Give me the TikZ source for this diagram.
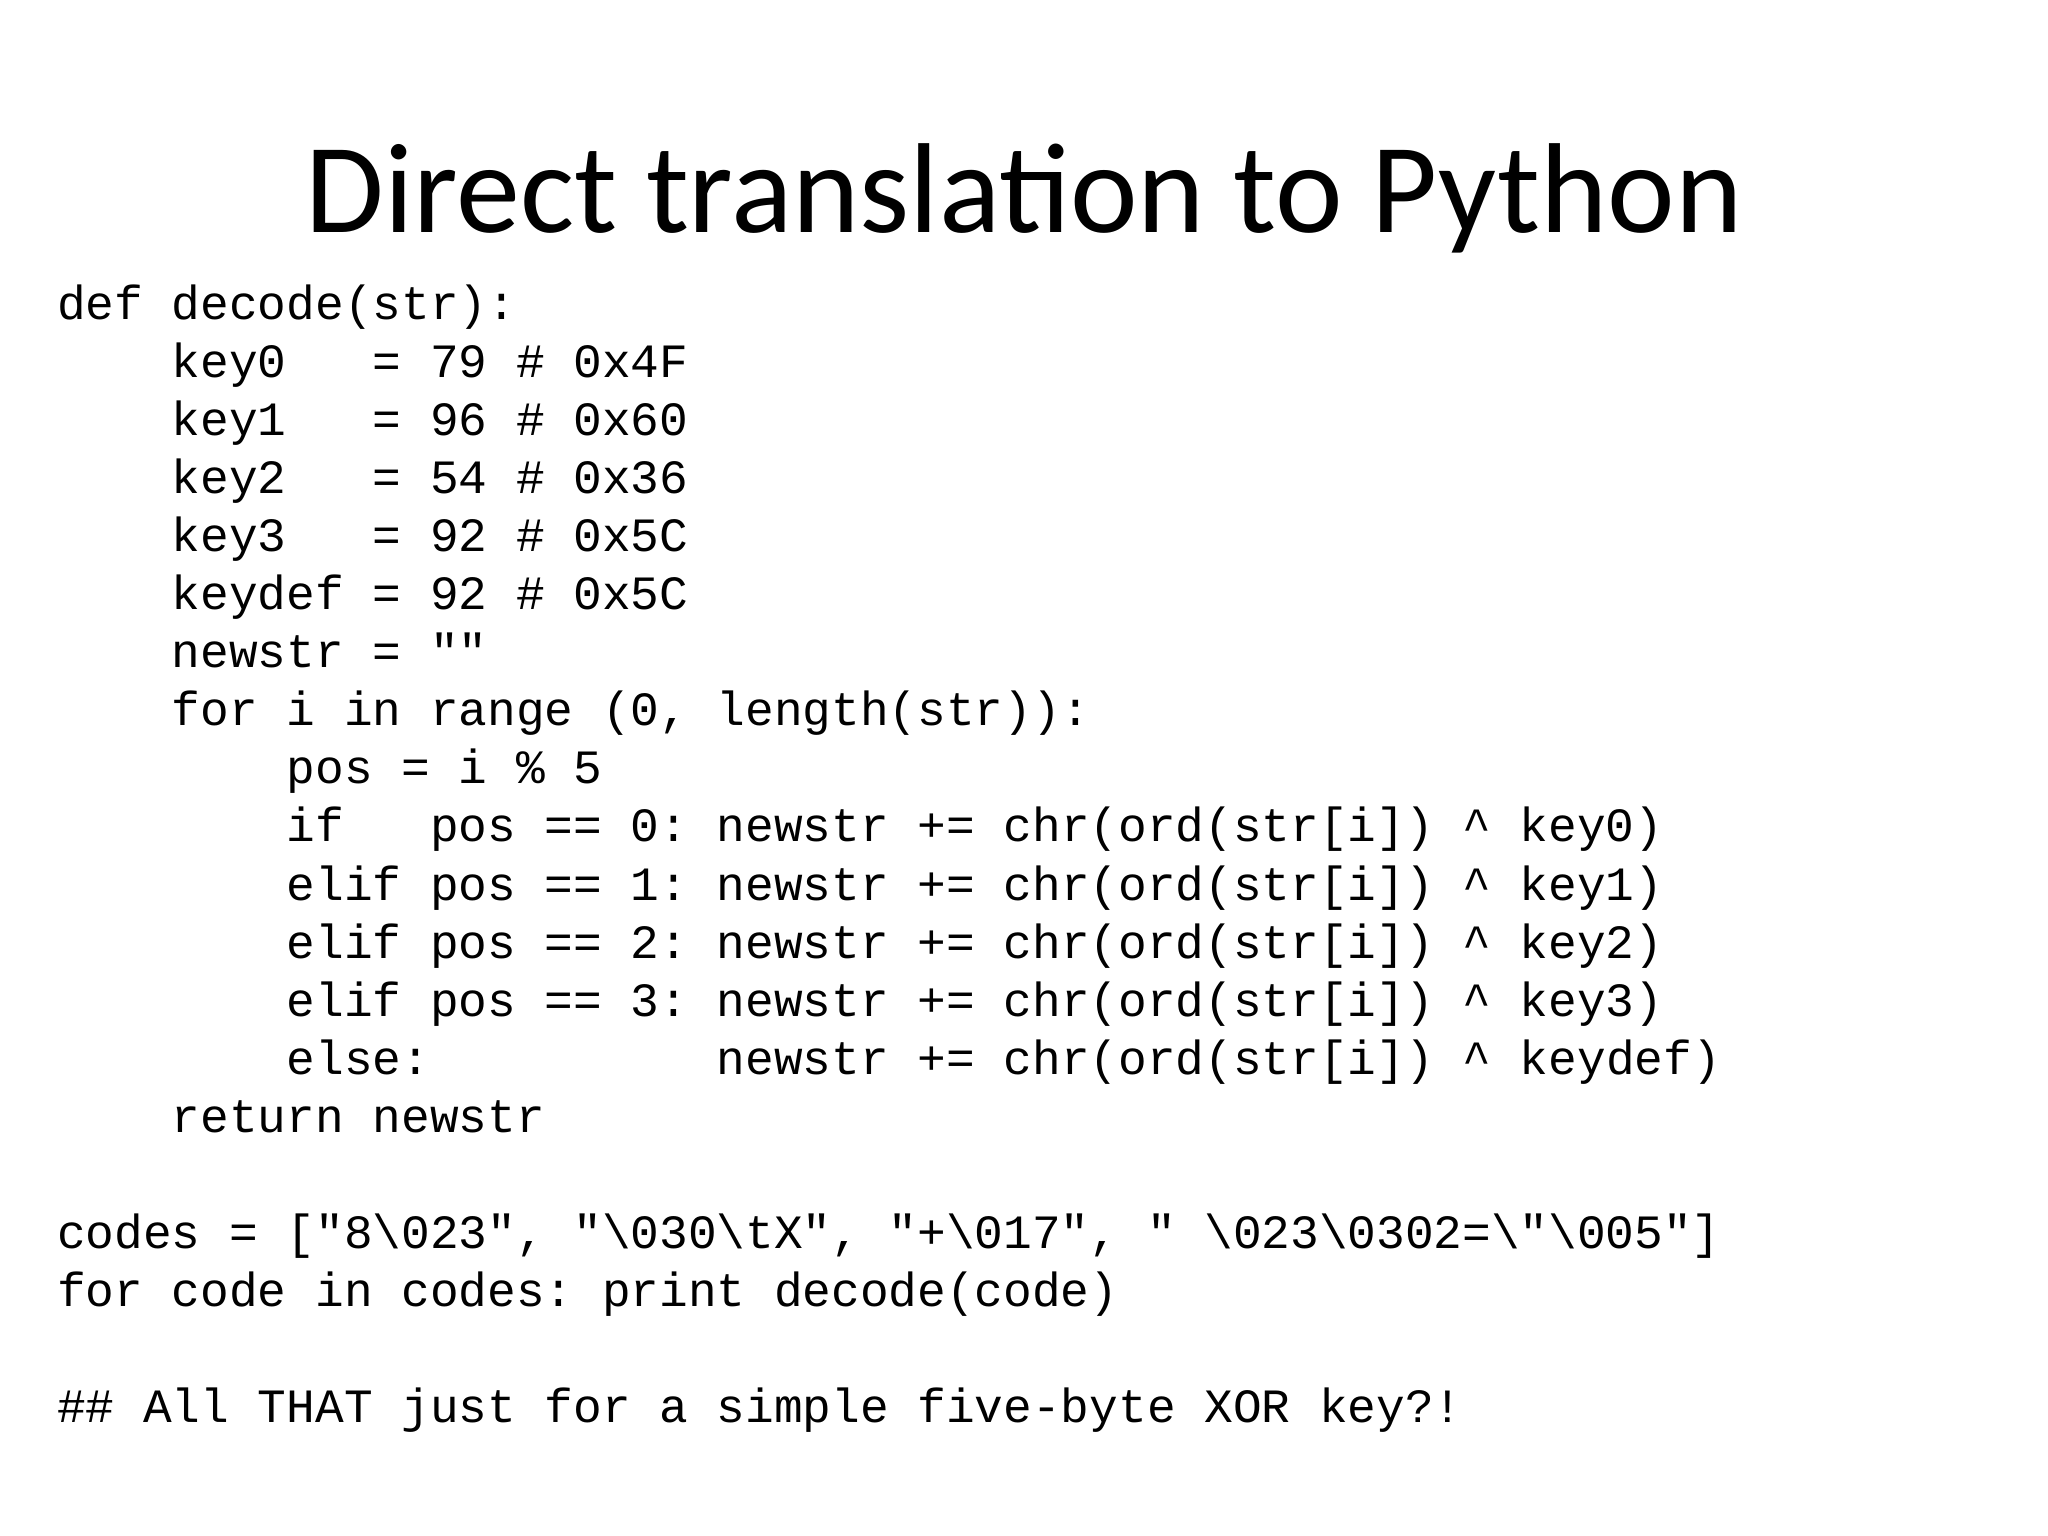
\documentclass[tikz,border=0pt]{standalone}
\usepackage{fontspec}
\setmainfont{Carlito}
\setmonofont{Liberation Mono}
\newcommand{\bs}{\textbackslash}
\begin{document}
\begin{tikzpicture}[x=1pt,y=-1pt,
  code/.style={anchor=base west,inner sep=0pt,font=\fontsize{47.8}{50}\ttfamily}]
\useasboundingbox (0,0) rectangle (2048,1536);
\node[anchor=base,inner sep=0pt,font=\fontsize{128}{130}\selectfont] (title) at (1024,232) {Direct translation to Python};
\def\ln#1{319+58.1*#1}
\node[code] (l0) at (57,{\ln{0}}) {def~decode(str):};
\node[code] (l1) at (57,{\ln{1}}) {~~~~key0~~~=~79~\#~0x4F};
\node[code] (l2) at (57,{\ln{2}}) {~~~~key1~~~=~96~\#~0x60};
\node[code] (l3) at (57,{\ln{3}}) {~~~~key2~~~=~54~\#~0x36};
\node[code] (l4) at (57,{\ln{4}}) {~~~~key3~~~=~92~\#~0x5C};
\node[code] (l5) at (57,{\ln{5}}) {~~~~keydef~=~92~\#~0x5C};
\node[code] (l6) at (57,{\ln{6}}) {~~~~newstr~=~""};
\node[code] (l7) at (57,{\ln{7}}) {~~~~for~i~in~range~(0,~length(str)):};
\node[code] (l8) at (57,{\ln{8}}) {~~~~~~~~pos~=~i~\%~5};
\node[code] (l9) at (57,{\ln{9}}) {~~~~~~~~if~~~pos~==~0:~newstr~+=~chr(ord(str[i])~\textasciicircum~key0)};
\node[code] (l10) at (57,{\ln{10}}) {~~~~~~~~elif~pos~==~1:~newstr~+=~chr(ord(str[i])~\textasciicircum~key1)};
\node[code] (l11) at (57,{\ln{11}}) {~~~~~~~~elif~pos~==~2:~newstr~+=~chr(ord(str[i])~\textasciicircum~key2)};
\node[code] (l12) at (57,{\ln{12}}) {~~~~~~~~elif~pos~==~3:~newstr~+=~chr(ord(str[i])~\textasciicircum~key3)};
\node[code] (l13) at (57,{\ln{13}}) {~~~~~~~~else:~~~~~~~~~~newstr~+=~chr(ord(str[i])~\textasciicircum~keydef)};
\node[code] (l14) at (57,{\ln{14}}) {~~~~return~newstr};
\node[code] (l16) at (57,{\ln{16}}) {codes~=~["8\bs023",~"\bs030\bs tX",~"+\bs017",~"~\bs023\bs0302=\bs"\bs005"]};
\node[code] (l17) at (57,{\ln{17}}) {for~code~in~codes:~print~decode(code)};
\node[code] (l19) at (57,{\ln{19}}) {\#\#~All~THAT~just~for~a~simple~five-byte~XOR~key?!};
\end{tikzpicture}
\end{document}
